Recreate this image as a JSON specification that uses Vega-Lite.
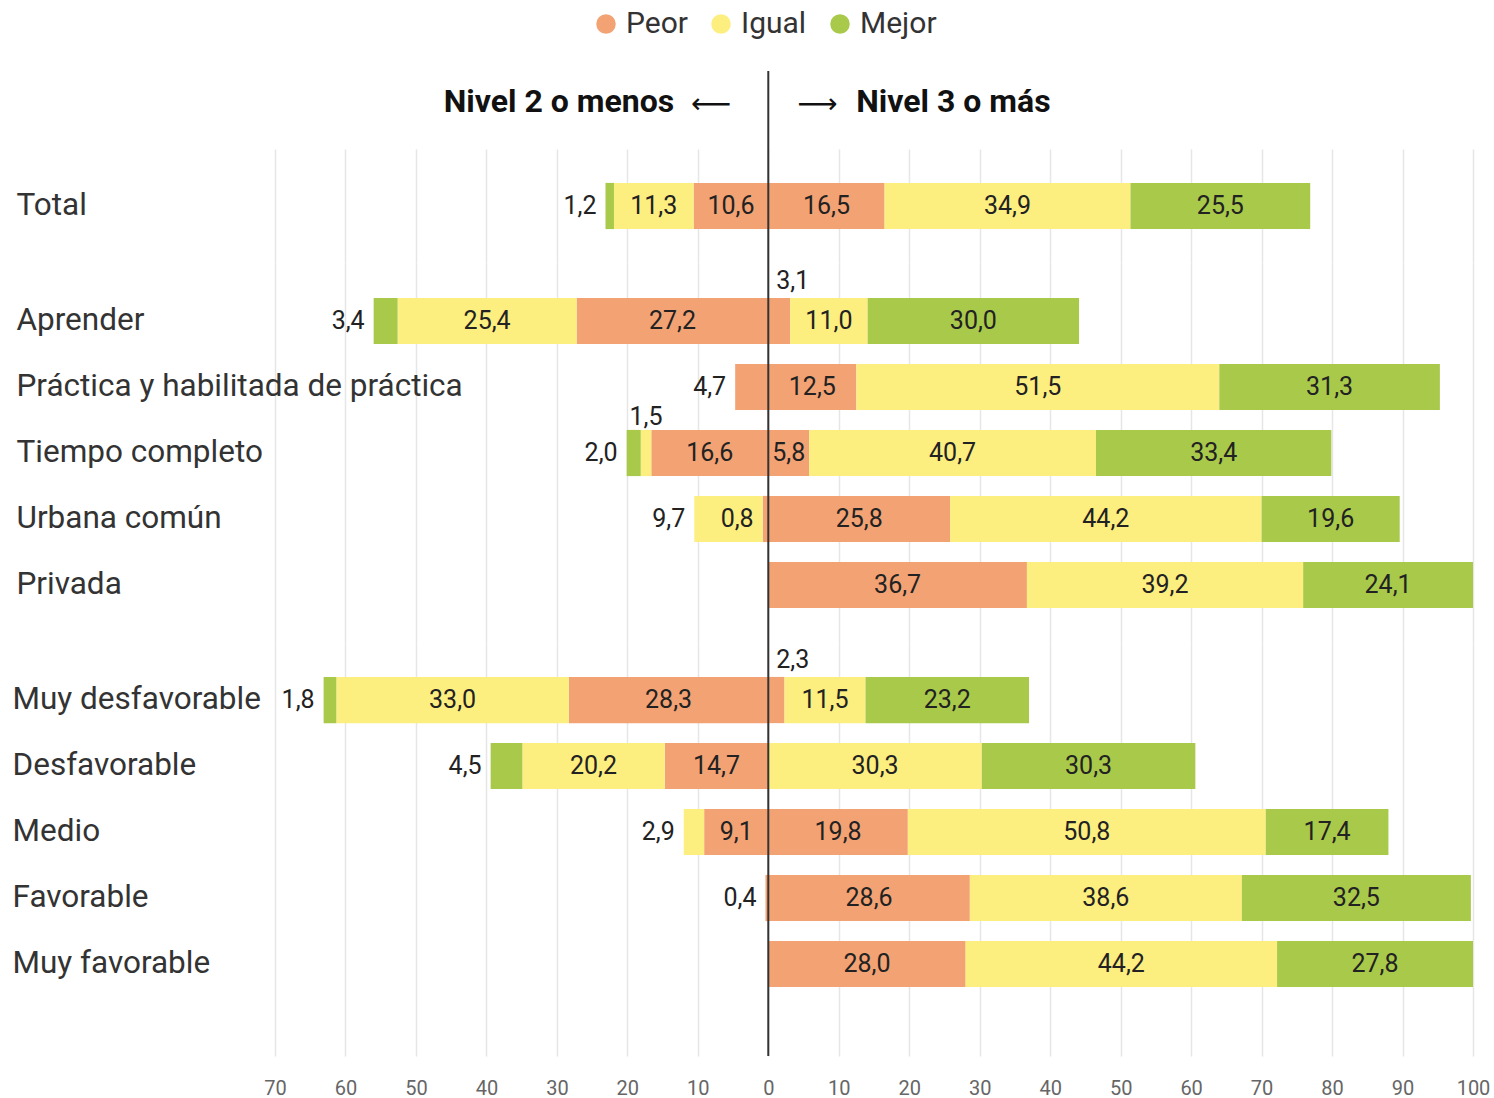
{
  "$schema": "https://vega.github.io/schema/vega-lite/v6.json",
  "background": "white",
  "padding": {"left": 12, "top": 9, "right": 0, "bottom": 0},
  "config": {
    "font": "Roboto",
    "view": {"stroke": null},
    "axis": {"gridColor": "#e6e6e6", "gridWidth": 1.5},
    "text": {"font": "Roboto", "fontSize": 25, "color": "#222"}
  },
  "datasets": {
    "barras": [
      {"grupo": "Total", "lado": "izq", "nivel": "Peor", "valor": 10.6},
      {"grupo": "Total", "lado": "izq", "nivel": "Igual", "valor": 11.3},
      {"grupo": "Total", "lado": "izq", "nivel": "Mejor", "valor": 1.2},
      {"grupo": "Total", "lado": "der", "nivel": "Peor", "valor": 16.5},
      {"grupo": "Total", "lado": "der", "nivel": "Igual", "valor": 34.9},
      {"grupo": "Total", "lado": "der", "nivel": "Mejor", "valor": 25.5},
      {"grupo": "Aprender", "lado": "izq", "nivel": "Peor", "valor": 27.2},
      {"grupo": "Aprender", "lado": "izq", "nivel": "Igual", "valor": 25.4},
      {"grupo": "Aprender", "lado": "izq", "nivel": "Mejor", "valor": 3.4},
      {"grupo": "Aprender", "lado": "der", "nivel": "Peor", "valor": 3.1},
      {"grupo": "Aprender", "lado": "der", "nivel": "Igual", "valor": 11.0},
      {"grupo": "Aprender", "lado": "der", "nivel": "Mejor", "valor": 30.0},
      {"grupo": "Práctica y habilitada de práctica", "lado": "izq", "nivel": "Peor", "valor": 4.7},
      {"grupo": "Práctica y habilitada de práctica", "lado": "der", "nivel": "Peor", "valor": 12.5},
      {"grupo": "Práctica y habilitada de práctica", "lado": "der", "nivel": "Igual", "valor": 51.5},
      {"grupo": "Práctica y habilitada de práctica", "lado": "der", "nivel": "Mejor", "valor": 31.3},
      {"grupo": "Tiempo completo", "lado": "izq", "nivel": "Peor", "valor": 16.6},
      {"grupo": "Tiempo completo", "lado": "izq", "nivel": "Igual", "valor": 1.5},
      {"grupo": "Tiempo completo", "lado": "izq", "nivel": "Mejor", "valor": 2.0},
      {"grupo": "Tiempo completo", "lado": "der", "nivel": "Peor", "valor": 5.8},
      {"grupo": "Tiempo completo", "lado": "der", "nivel": "Igual", "valor": 40.7},
      {"grupo": "Tiempo completo", "lado": "der", "nivel": "Mejor", "valor": 33.4},
      {"grupo": "Urbana común", "lado": "izq", "nivel": "Peor", "valor": 0.8},
      {"grupo": "Urbana común", "lado": "izq", "nivel": "Igual", "valor": 9.7},
      {"grupo": "Urbana común", "lado": "der", "nivel": "Peor", "valor": 25.8},
      {"grupo": "Urbana común", "lado": "der", "nivel": "Igual", "valor": 44.2},
      {"grupo": "Urbana común", "lado": "der", "nivel": "Mejor", "valor": 19.6},
      {"grupo": "Privada", "lado": "der", "nivel": "Peor", "valor": 36.7},
      {"grupo": "Privada", "lado": "der", "nivel": "Igual", "valor": 39.2},
      {"grupo": "Privada", "lado": "der", "nivel": "Mejor", "valor": 24.1},
      {"grupo": "Muy desfavorable", "lado": "izq", "nivel": "Peor", "valor": 28.3},
      {"grupo": "Muy desfavorable", "lado": "izq", "nivel": "Igual", "valor": 33.0},
      {"grupo": "Muy desfavorable", "lado": "izq", "nivel": "Mejor", "valor": 1.8},
      {"grupo": "Muy desfavorable", "lado": "der", "nivel": "Peor", "valor": 2.3},
      {"grupo": "Muy desfavorable", "lado": "der", "nivel": "Igual", "valor": 11.5},
      {"grupo": "Muy desfavorable", "lado": "der", "nivel": "Mejor", "valor": 23.2},
      {"grupo": "Desfavorable", "lado": "izq", "nivel": "Peor", "valor": 14.7},
      {"grupo": "Desfavorable", "lado": "izq", "nivel": "Igual", "valor": 20.2},
      {"grupo": "Desfavorable", "lado": "izq", "nivel": "Mejor", "valor": 4.5},
      {"grupo": "Desfavorable", "lado": "der", "nivel": "Igual", "valor": 30.3},
      {"grupo": "Desfavorable", "lado": "der", "nivel": "Mejor", "valor": 30.3},
      {"grupo": "Medio", "lado": "izq", "nivel": "Peor", "valor": 9.1},
      {"grupo": "Medio", "lado": "izq", "nivel": "Igual", "valor": 2.9},
      {"grupo": "Medio", "lado": "der", "nivel": "Peor", "valor": 19.8},
      {"grupo": "Medio", "lado": "der", "nivel": "Igual", "valor": 50.8},
      {"grupo": "Medio", "lado": "der", "nivel": "Mejor", "valor": 17.4},
      {"grupo": "Favorable", "lado": "izq", "nivel": "Peor", "valor": 0.4},
      {"grupo": "Favorable", "lado": "der", "nivel": "Peor", "valor": 28.6},
      {"grupo": "Favorable", "lado": "der", "nivel": "Igual", "valor": 38.6},
      {"grupo": "Favorable", "lado": "der", "nivel": "Mejor", "valor": 32.5},
      {"grupo": "Muy favorable", "lado": "der", "nivel": "Peor", "valor": 28.0},
      {"grupo": "Muy favorable", "lado": "der", "nivel": "Igual", "valor": 44.2},
      {"grupo": "Muy favorable", "lado": "der", "nivel": "Mejor", "valor": 27.8}
    ],
    "encabezados": [
      {"lado": "izq", "titulo": "Nivel 2 o menos"},
      {"lado": "der", "titulo": "Nivel 3 o más"}
    ],
    "eje": [{"cero": 0}]
  },
  "spacing": 0,
  "bounds": "flush",
  "resolve": {"scale": {"x": "shared", "color": "shared"}},
  "vconcat": [
    {
      "width": 1198,
      "height": 78,
      "data": {"name": "encabezados"},
      "layer": [
        {
          "transform": [{"filter": "datum.lado == 'izq'"}],
          "mark": {"type": "text", "align": "right", "dx": -94, "dy": -8, "fontSize": 32, "fontWeight": "bold", "color": "#111"},
          "encoding": {
            "x": {"datum": 0, "type": "quantitative", "scale": {"domain": [-70, 100], "nice": false}, "axis": null},
            "text": {"field": "titulo"}
          }
        },
        {
          "transform": [{"filter": "datum.lado == 'izq'"}],
          "mark": {"type": "text", "align": "right", "dx": -37, "dy": -5, "fontSize": 28, "font": "DejaVu Sans", "color": "#111"},
          "encoding": {"x": {"datum": 0, "type": "quantitative"}, "text": {"value": "⟵"}}
        },
        {
          "transform": [{"filter": "datum.lado == 'der'"}],
          "mark": {"type": "text", "align": "left", "dx": 29, "dy": -5, "fontSize": 28, "font": "DejaVu Sans", "color": "#111"},
          "encoding": {"x": {"datum": 0, "type": "quantitative"}, "text": {"value": "⟶"}}
        },
        {
          "transform": [{"filter": "datum.lado == 'der'"}],
          "mark": {"type": "text", "align": "left", "dx": 88, "dy": -8, "fontSize": 32, "fontWeight": "bold", "color": "#111"},
          "encoding": {"x": {"datum": 0, "type": "quantitative"}, "text": {"field": "titulo"}}
        },
        {
          "data": {"name": "eje"},
          "mark": {"type": "rule", "color": "#333", "strokeWidth": 2},
          "encoding": {"x": {"field": "cero", "type": "quantitative", "title": null}}
        }
      ]
    },
    {
      "width": 1198,
      "height": 114,
      "layer": [
        {
          "data": {"name": "barras"},
          "transform": [
            {"filter": {"field": "grupo", "oneOf": ["Total"]}},
            {"calculate": "indexof(['Peor','Igual','Mejor'], datum.nivel)", "as": "orden"},
            {"calculate": "datum.lado == 'izq' ? -datum.valor : datum.valor", "as": "v"},
            {"stack": "v", "groupby": ["grupo", "lado"], "sort": [{"field": "orden", "order": "ascending"}], "as": ["x0", "x1"]},
            {"joinaggregate": [{"op": "max", "field": "orden", "as": "maxOrden"}], "groupby": ["grupo", "lado"]},
            {"calculate": "datum.orden == datum.maxOrden ? datum.valor : 0", "as": "valExt"},
            {"joinaggregate": [{"op": "max", "field": "valExt", "as": "valorExterior"}], "groupby": ["grupo", "lado"]},
            {"calculate": "(datum.x0 + datum.x1) / 2", "as": "xm"},
            {"calculate": "replace(format(datum.valor, '.1f'), '.', ',')", "as": "etiqueta"},
            {"calculate": "datum.lado == 'der' ? (datum.valor < 5 ? 'arriba' : 'dentro') : (datum.orden == datum.maxOrden ? (datum.valor < 10 ? 'fuera' : 'dentro') : (datum.valor < 5 ? (datum.valorExterior < 5 ? 'arriba' : 'fuera') : 'dentro'))", "as": "ubic"}
          ],
          "encoding": {
            "y": {
              "field": "grupo", "type": "nominal", "sort": ["Total"],
              "scale": {"paddingInner": 0.3, "paddingOuter": 0.514, "align": 0.5},
              "axis": {"title": null, "domain": false, "ticks": false, "labelAlign": "left", "labelPadding": 259, "labelFontSize": 31.5, "labelColor": "#333", "labelLimit": 0}
            }
          },
          "layer": [
            {
              "mark": {"type": "bar"},
              "encoding": {
                "x": {"field": "x0", "type": "quantitative", "title": null, "scale": {"domain": [-70, 100], "nice": false},
                  "axis": {"title": null, "labels": false, "ticks": false, "domain": false, "grid": true, "values": [-70, -60, -50, -40, -30, -20, -10, 0, 10, 20, 30, 40, 50, 60, 70, 80, 90, 100]}},
                "x2": {"field": "x1"},
                "color": {
                  "field": "nivel", "type": "nominal",
                  "scale": {"domain": ["Peor", "Igual", "Mejor"], "range": ["#f3a274", "#fdee80", "#a9c94b"]},
                  "legend": {"orient": "none", "legendX": 316, "legendY": -62, "direction": "horizontal", "title": null, "symbolType": "circle", "symbolSize": 380, "symbolStrokeWidth": 0, "symbolOpacity": 1, "labelFontSize": 30, "labelColor": "#333", "labelFont": "Roboto", "columnPadding": 18, "labelOffset": 5}
                }
              }
            },
            {
              "transform": [{"filter": "datum.ubic == 'dentro'"}],
              "mark": {"type": "text", "align": "center"},
              "encoding": {"x": {"field": "xm", "type": "quantitative", "title": null}, "text": {"field": "etiqueta"}}
            },
            {
              "transform": [{"filter": "datum.ubic == 'fuera'"}],
              "mark": {"type": "text", "align": "right", "dx": -9},
              "encoding": {"x": {"field": "x1", "type": "quantitative", "title": null}, "text": {"field": "etiqueta"}}
            },
            {
              "transform": [{"filter": "datum.ubic == 'arriba' && datum.lado == 'izq'"}],
              "mark": {"type": "text", "align": "center", "dy": -36},
              "encoding": {"x": {"field": "xm", "type": "quantitative", "title": null}, "text": {"field": "etiqueta"}}
            },
            {
              "transform": [{"filter": "datum.ubic == 'arriba' && datum.lado == 'der'"}],
              "mark": {"type": "text", "align": "left", "dx": 8, "dy": -40},
              "encoding": {"x": {"field": "x0", "type": "quantitative", "title": null}, "text": {"field": "etiqueta"}}
            }
          ]
        },
        {
          "data": {"name": "eje"},
          "mark": {"type": "rule", "color": "#333", "strokeWidth": 2},
          "encoding": {"x": {"field": "cero", "type": "quantitative", "title": null}}
        }
      ]
    },
    {
      "width": 1198,
      "height": 380,
      "layer": [
        {
          "data": {"name": "barras"},
          "transform": [
            {"filter": {"field": "grupo", "oneOf": ["Aprender", "Práctica y habilitada de práctica", "Tiempo completo", "Urbana común", "Privada"]}},
            {"calculate": "indexof(['Peor','Igual','Mejor'], datum.nivel)", "as": "orden"},
            {"calculate": "datum.lado == 'izq' ? -datum.valor : datum.valor", "as": "v"},
            {"stack": "v", "groupby": ["grupo", "lado"], "sort": [{"field": "orden", "order": "ascending"}], "as": ["x0", "x1"]},
            {"joinaggregate": [{"op": "max", "field": "orden", "as": "maxOrden"}], "groupby": ["grupo", "lado"]},
            {"calculate": "datum.orden == datum.maxOrden ? datum.valor : 0", "as": "valExt"},
            {"joinaggregate": [{"op": "max", "field": "valExt", "as": "valorExterior"}], "groupby": ["grupo", "lado"]},
            {"calculate": "(datum.x0 + datum.x1) / 2", "as": "xm"},
            {"calculate": "replace(format(datum.valor, '.1f'), '.', ',')", "as": "etiqueta"},
            {"calculate": "datum.lado == 'der' ? (datum.valor < 5 ? 'arriba' : 'dentro') : (datum.orden == datum.maxOrden ? (datum.valor < 10 ? 'fuera' : 'dentro') : (datum.valor < 5 ? (datum.valorExterior < 5 ? 'arriba' : 'fuera') : 'dentro'))", "as": "ubic"}
          ],
          "encoding": {
            "y": {
              "field": "grupo", "type": "nominal", "sort": ["Aprender", "Práctica y habilitada de práctica", "Tiempo completo", "Urbana común", "Privada"],
              "scale": {"paddingInner": 0.3, "paddingOuter": 0.529, "align": 0.5},
              "axis": {"title": null, "domain": false, "ticks": false, "labelAlign": "left", "labelPadding": 259, "labelFontSize": 31.5, "labelColor": "#333", "labelLimit": 0}
            }
          },
          "layer": [
            {
              "mark": {"type": "bar"},
              "encoding": {
                "x": {"field": "x0", "type": "quantitative", "title": null, "scale": {"domain": [-70, 100], "nice": false},
                  "axis": {"title": null, "labels": false, "ticks": false, "domain": false, "grid": true, "values": [-70, -60, -50, -40, -30, -20, -10, 0, 10, 20, 30, 40, 50, 60, 70, 80, 90, 100]}},
                "x2": {"field": "x1"},
                "color": {
                  "field": "nivel", "type": "nominal",
                  "scale": {"domain": ["Peor", "Igual", "Mejor"], "range": ["#f3a274", "#fdee80", "#a9c94b"]},
                  "legend": {"orient": "none", "legendX": 316, "legendY": -62, "direction": "horizontal", "title": null, "symbolType": "circle", "symbolSize": 380, "symbolStrokeWidth": 0, "symbolOpacity": 1, "labelFontSize": 30, "labelColor": "#333", "labelFont": "Roboto", "columnPadding": 18, "labelOffset": 5}
                }
              }
            },
            {
              "transform": [{"filter": "datum.ubic == 'dentro'"}],
              "mark": {"type": "text", "align": "center"},
              "encoding": {"x": {"field": "xm", "type": "quantitative", "title": null}, "text": {"field": "etiqueta"}}
            },
            {
              "transform": [{"filter": "datum.ubic == 'fuera'"}],
              "mark": {"type": "text", "align": "right", "dx": -9},
              "encoding": {"x": {"field": "x1", "type": "quantitative", "title": null}, "text": {"field": "etiqueta"}}
            },
            {
              "transform": [{"filter": "datum.ubic == 'arriba' && datum.lado == 'izq'"}],
              "mark": {"type": "text", "align": "center", "dy": -36},
              "encoding": {"x": {"field": "xm", "type": "quantitative", "title": null}, "text": {"field": "etiqueta"}}
            },
            {
              "transform": [{"filter": "datum.ubic == 'arriba' && datum.lado == 'der'"}],
              "mark": {"type": "text", "align": "left", "dx": 8, "dy": -40},
              "encoding": {"x": {"field": "x0", "type": "quantitative", "title": null}, "text": {"field": "etiqueta"}}
            }
          ]
        },
        {
          "data": {"name": "eje"},
          "mark": {"type": "rule", "color": "#333", "strokeWidth": 2},
          "encoding": {"x": {"field": "cero", "type": "quantitative", "title": null}}
        }
      ]
    },
    {
      "width": 1198,
      "height": 413,
      "layer": [
        {
          "data": {"name": "barras"},
          "transform": [
            {"filter": {"field": "grupo", "oneOf": ["Muy desfavorable", "Desfavorable", "Medio", "Favorable", "Muy favorable"]}},
            {"calculate": "indexof(['Peor','Igual','Mejor'], datum.nivel)", "as": "orden"},
            {"calculate": "datum.lado == 'izq' ? -datum.valor : datum.valor", "as": "v"},
            {"stack": "v", "groupby": ["grupo", "lado"], "sort": [{"field": "orden", "order": "ascending"}], "as": ["x0", "x1"]},
            {"joinaggregate": [{"op": "max", "field": "orden", "as": "maxOrden"}], "groupby": ["grupo", "lado"]},
            {"calculate": "datum.orden == datum.maxOrden ? datum.valor : 0", "as": "valExt"},
            {"joinaggregate": [{"op": "max", "field": "valExt", "as": "valorExterior"}], "groupby": ["grupo", "lado"]},
            {"calculate": "(datum.x0 + datum.x1) / 2", "as": "xm"},
            {"calculate": "replace(format(datum.valor, '.1f'), '.', ',')", "as": "etiqueta"},
            {"calculate": "datum.lado == 'der' ? (datum.valor < 5 ? 'arriba' : 'dentro') : (datum.orden == datum.maxOrden ? (datum.valor < 10 ? 'fuera' : 'dentro') : (datum.valor < 5 ? (datum.valorExterior < 5 ? 'arriba' : 'fuera') : 'dentro'))", "as": "ubic"}
          ],
          "encoding": {
            "y": {
              "field": "grupo", "type": "nominal", "sort": ["Muy desfavorable", "Desfavorable", "Medio", "Favorable", "Muy favorable"],
              "scale": {"paddingInner": 0.3, "paddingOuter": 0.779, "align": 0.33},
              "axis": {"title": null, "domain": false, "ticks": false, "labelAlign": "left", "labelPadding": 263, "labelFontSize": 31.5, "labelColor": "#333", "labelLimit": 0}
            }
          },
          "layer": [
            {
              "mark": {"type": "bar"},
              "encoding": {
                "x": {"field": "x0", "type": "quantitative", "title": null, "scale": {"domain": [-70, 100], "nice": false},
                  "axis": {"title": null, "ticks": false, "domain": false, "grid": true, "labelExpr": "abs(datum.value)", "labelFontSize": 20, "labelColor": "#666", "labelPadding": 22, "labelFlush": false, "labelOverlap": false, "values": [-70, -60, -50, -40, -30, -20, -10, 0, 10, 20, 30, 40, 50, 60, 70, 80, 90, 100]}},
                "x2": {"field": "x1"},
                "color": {
                  "field": "nivel", "type": "nominal",
                  "scale": {"domain": ["Peor", "Igual", "Mejor"], "range": ["#f3a274", "#fdee80", "#a9c94b"]},
                  "legend": {"orient": "none", "legendX": 316, "legendY": -62, "direction": "horizontal", "title": null, "symbolType": "circle", "symbolSize": 380, "symbolStrokeWidth": 0, "symbolOpacity": 1, "labelFontSize": 30, "labelColor": "#333", "labelFont": "Roboto", "columnPadding": 18, "labelOffset": 5}
                }
              }
            },
            {
              "transform": [{"filter": "datum.ubic == 'dentro'"}],
              "mark": {"type": "text", "align": "center"},
              "encoding": {"x": {"field": "xm", "type": "quantitative", "title": null}, "text": {"field": "etiqueta"}}
            },
            {
              "transform": [{"filter": "datum.ubic == 'fuera'"}],
              "mark": {"type": "text", "align": "right", "dx": -9},
              "encoding": {"x": {"field": "x1", "type": "quantitative", "title": null}, "text": {"field": "etiqueta"}}
            },
            {
              "transform": [{"filter": "datum.ubic == 'arriba' && datum.lado == 'izq'"}],
              "mark": {"type": "text", "align": "center", "dy": -36},
              "encoding": {"x": {"field": "xm", "type": "quantitative", "title": null}, "text": {"field": "etiqueta"}}
            },
            {
              "transform": [{"filter": "datum.ubic == 'arriba' && datum.lado == 'der'"}],
              "mark": {"type": "text", "align": "left", "dx": 8, "dy": -40},
              "encoding": {"x": {"field": "x0", "type": "quantitative", "title": null}, "text": {"field": "etiqueta"}}
            }
          ]
        },
        {
          "data": {"name": "eje"},
          "mark": {"type": "rule", "color": "#333", "strokeWidth": 2},
          "encoding": {"x": {"field": "cero", "type": "quantitative", "title": null}}
        }
      ]
    }
  ]
}
